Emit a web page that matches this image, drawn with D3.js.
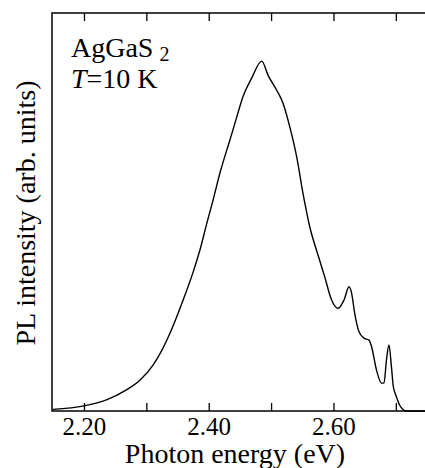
<!DOCTYPE html>
<html>
<head>
<meta charset="utf-8">
<script src="https://cdn.jsdelivr.net/npm/d3@7"></script>
<style>
  html, body { margin: 0; padding: 0; background: #fff; }
</style>
</head>
<body>
<svg id="chart"></svg>
<script>
// photon energy (eV) and PL intensity (arb. units)
const energy = [2.150, 2.200, 2.236, 2.268, 2.290, 2.311, 2.325, 2.338, 2.359, 2.375,
  2.386, 2.397, 2.407, 2.418, 2.429, 2.434, 2.445, 2.455, 2.469, 2.485,
  2.495, 2.509, 2.519, 2.530, 2.541, 2.551, 2.562, 2.576, 2.586, 2.597,
  2.6075, 2.617, 2.625, 2.629, 2.634, 2.641, 2.649, 2.657, 2.661, 2.669,
  2.677, 2.681, 2.685, 2.689, 2.693, 2.696, 2.701, 2.706, 2.712, 2.716, 2.75];
const intensity = [0.004, 0.013, 0.028, 0.053, 0.078, 0.116, 0.153, 0.196, 0.279, 0.349,
  0.405, 0.472, 0.530, 0.598, 0.656, 0.681, 0.739, 0.790, 0.837, 0.879,
  0.844, 0.806, 0.774, 0.714, 0.639, 0.548, 0.463, 0.388, 0.337, 0.279,
  0.258, 0.279, 0.312, 0.297, 0.246, 0.199, 0.183, 0.178, 0.162, 0.103,
  0.070, 0.070, 0.128, 0.166, 0.111, 0.061, 0.036, 0.015, 0.003, 0.0, 0.0];
const majorTicks = [2.20, 2.40, 2.60];
const allTicks = [2.20, 2.30, 2.40, 2.50, 2.60, 2.70];

const serif = "'Liberation Serif', 'Times New Roman', Times, 'Nimbus Roman', 'Nimbus Roman No9 L', FreeSerif, 'Noto Serif', 'DejaVu Serif', serif";
const width = 425, height = 468;
const svg = d3.select("#chart").attr("width", width).attr("height", height)
  .style("font-family", serif);

const x = d3.scaleLinear().domain([2.1487, 2.75]).range([52, 427]);
const y = d3.scaleLinear().domain([0, 1]).range([411, 13]);

const data = energy.map((e, i) => ({e: e, v: intensity[i]}));

// frame
svg.append("rect")
  .attr("x", x.range()[0]).attr("y", y.range()[1])
  .attr("width", x.range()[1] - x.range()[0])
  .attr("height", y.range()[0] - y.range()[1])
  .attr("fill", "none").attr("stroke", "#000").attr("stroke-width", 1.5);

// inward ticks, bottom and top
const bottomAxis = d3.axisBottom(x).tickValues(allTicks).tickSize(-8)
  .tickFormat(d => majorTicks.includes(d) ? d3.format(".2f")(d) : "");
const gb = svg.append("g").attr("transform", `translate(0,${y.range()[0]})`).call(bottomAxis)
  .attr("font-family", null).attr("font-size", null);
gb.select(".domain").remove();
gb.selectAll(".tick line").attr("stroke", "#000").attr("stroke-width", 1.3);
gb.selectAll(".tick text")
  .attr("y", 0).attr("dy", 0)
  .attr("transform", "translate(0,24)")
  .style("font-family", serif)
  .style("font-size", "25px").attr("fill", "#000");

const topAxis = d3.axisTop(x).tickValues(allTicks).tickSize(-8).tickFormat("");
const gt = svg.append("g").attr("transform", `translate(0,${y.range()[1]})`).call(topAxis);
gt.select(".domain").remove();
gt.selectAll(".tick line").attr("stroke", "#000").attr("stroke-width", 1.3);

// spectrum
svg.append("path")
  .datum(data)
  .attr("fill", "none")
  .attr("stroke", "#000")
  .attr("stroke-width", 1.4)
  .attr("stroke-linejoin", "round")
  .attr("d", d3.line()
    .x(d => x(d.e))
    .y(d => y(d.v))
    .curve(d3.curveMonotoneX));

// axis titles
svg.append("text")
  .attr("x", 235).attr("y", 463)
  .attr("text-anchor", "middle")
  .style("font-family", serif).style("font-size", "28px")
  .text("Photon energy (eV)");

svg.append("text")
  .attr("transform", "translate(35,213) rotate(-90)")
  .attr("text-anchor", "middle")
  .style("font-family", serif).style("font-size", "28px")
  .text("PL intensity (arb. units)");

// sample label
const lab = svg.append("text").attr("x", 71).attr("y", 57)
  .style("font-family", serif).style("font-size", "28px");
lab.append("tspan").text("AgGaS");
lab.append("tspan").attr("dx", 6).attr("dy", 4).style("font-size", "20px").text("2");

const tl = svg.append("text").attr("x", 71).attr("y", 88)
  .style("font-family", serif).style("font-size", "28px");
tl.append("tspan").style("font-style", "italic").text("T");
tl.append("tspan").text("=10 K");
</script>
</body>
</html>
